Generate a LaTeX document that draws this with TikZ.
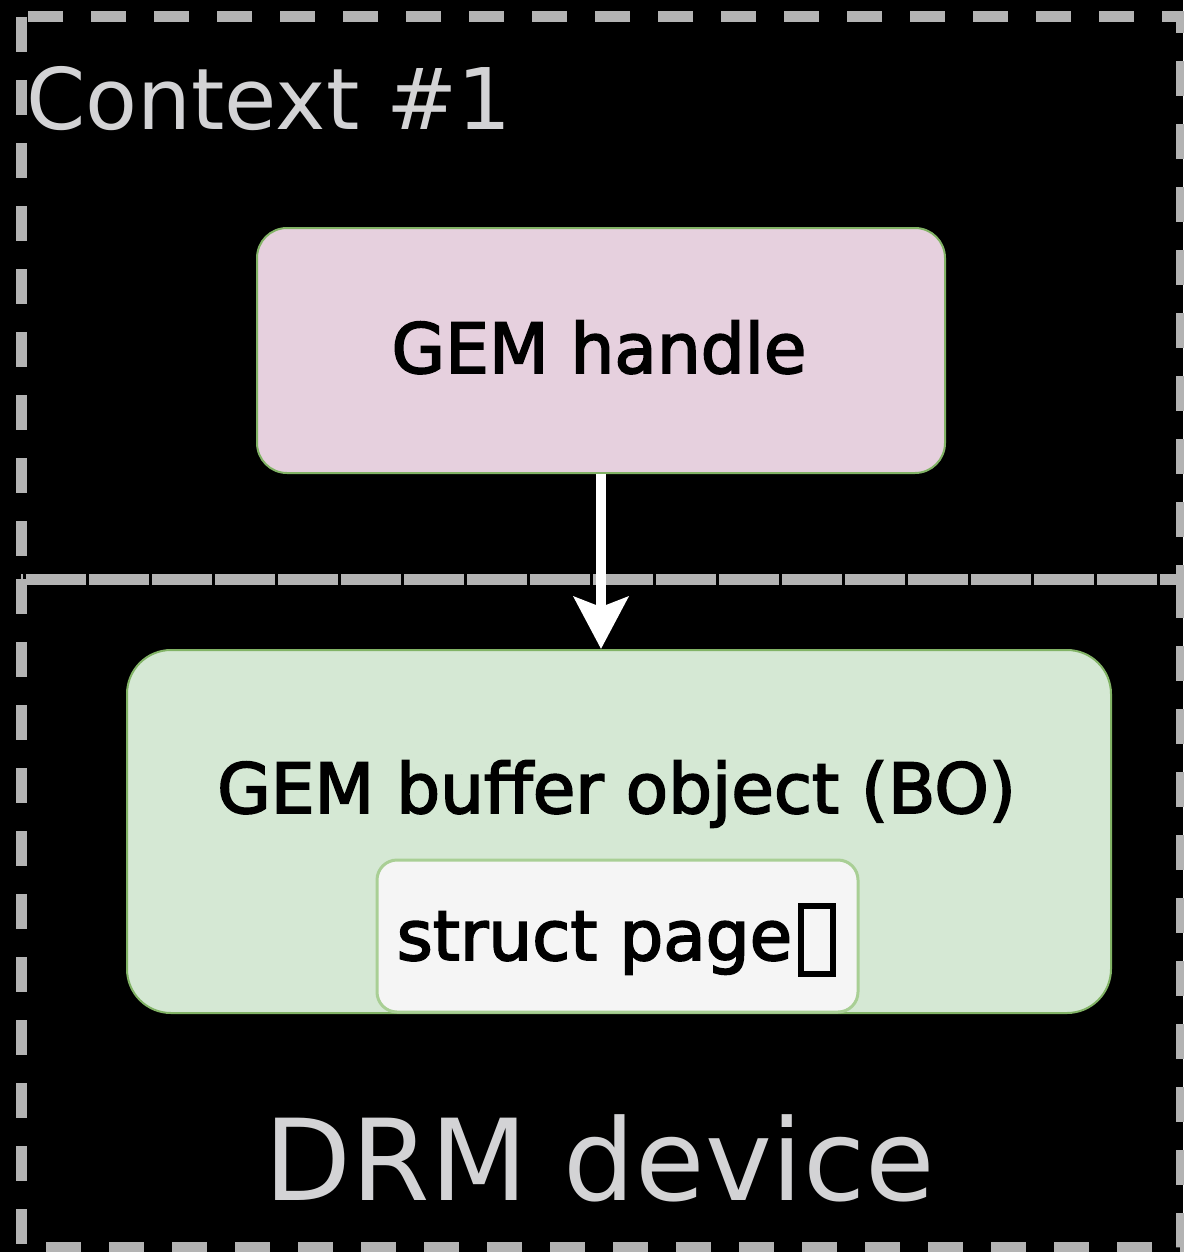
\documentclass[tikz,border=0pt]{standalone}
\usepackage{fontspec}
\setmainfont{DejaVu Sans}
\newfontfamily\labelfont{DejaVu Sans}[FakeBold=2.6, Ligatures={NoCommon}]
\usetikzlibrary{arrows.meta}
\definecolor{dashgray}{HTML}{B3B3B3}
\definecolor{labelgray}{HTML}{D3D3D5}
\definecolor{pinkfill}{HTML}{E6D0DE}
\definecolor{greenfill}{HTML}{D5E8D4}
\definecolor{greenline}{HTML}{82B366}
\definecolor{paleline}{HTML}{A9CF95}
\definecolor{pagefill}{HTML}{F5F5F5}
\tikzset{
  frame/.style={draw=dashgray, line width=5.5pt, dash pattern=on 17.5pt off 14pt},
  objbox/.style={draw=greenline, line width=1pt},
  boxtext/.style={font=\labelfont\fontsize{34.6}{40}\selectfont, text=black, anchor=base, inner sep=0pt},
}
% empty glyph box printed after "page"
\newcommand{\tofubox}{\hspace{3pt}\raisebox{-5.5pt}{\setlength\fboxrule{3pt}\setlength\fboxsep{0pt}\fbox{\rule{0pt}{31pt}\hspace{13pt}}}}
\begin{document}
\begin{tikzpicture}[x=0.5pt,y=-0.5pt]
  \fill[black] (0,0) rectangle (1183,1252);
  \useasboundingbox (0,0) rectangle (1183,1252);
  % context and device frames
  \draw[frame] (21,17) rectangle (1181,579);
  \draw[frame] (21,579) rectangle (1181,1247);
  \node[anchor=base west, inner sep=0pt, text=labelgray, font=\fontsize{42.5}{48}\selectfont] (ctx) at (26,130) {Context \#1};
  \node[anchor=base, inner sep=0pt, text=labelgray, font=\fontsize{56.5}{64}\selectfont] (dev) at (600,1200) {DRM device};
  % handle
  \node[objbox, fill=pinkfill, rounded corners=15pt, minimum width=344pt, minimum height=122.5pt] (handle) at (601,350.5) {};
  \node[boxtext] (handletext) at (599,373) {GEM handle};
  % buffer object
  \node[objbox, fill=greenfill, rounded corners=22pt, minimum width=492pt, minimum height=181.5pt] (bo) at (619,831.5) {};
  \node[boxtext] (botext) at (616.5,813) {GEM buffer object (BO)};
  \node[draw=paleline, line width=1.5pt, fill=pagefill, rounded corners=10pt, minimum width=240.5pt, minimum height=76pt] (page) at (617.5,936) {};
  \node[boxtext] (pagetext) at (616.5,960) {struct page\tofubox};
  % reference arrow
  \draw[white, line width=5pt, -{Stealth[length=26pt, width=27pt, inset=5pt]}] (handle.south) -- (handle.south |- bo.north);
\end{tikzpicture}
\end{document}
